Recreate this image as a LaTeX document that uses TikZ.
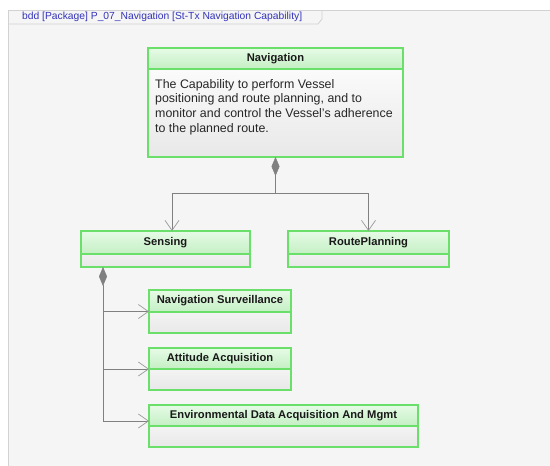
\documentclass[tikz,border=0pt]{standalone}
\usepackage{fontspec}
\setmainfont{Liberation Sans}
\usetikzlibrary{arrows.meta,calc}
\definecolor{boxgreen}{HTML}{6ADF6A}
\definecolor{hdrtop}{HTML}{E6FBE6}
\definecolor{hdrbot}{HTML}{C4EFC4}
\definecolor{bodybot}{HTML}{E8E8E8}
\definecolor{frameback}{HTML}{F5F5F5}
\definecolor{frameline}{HTML}{D2D2D2}
\definecolor{titleblue}{HTML}{3333BB}
\definecolor{conngray}{HTML}{808080}
\definecolor{arrowgray}{HTML}{9A9A9A}
\tikzset{
  boxbody/.style={draw=boxgreen, line width=1.1pt, top color=white, middle color=white, bottom color=bodybot, anchor=north west, inner sep=0pt, outer sep=0pt},
  boxhdr/.style={draw=boxgreen, line width=1.1pt, top color=hdrtop, bottom color=hdrbot, anchor=north west, inner sep=0pt, outer sep=0pt, font=\bfseries\fontsize{11.2}{13}\selectfont, text=black!90},
  comp/.style={draw=conngray, line width=0.8pt, {Diamond[length=19pt,width=8pt,fill=conngray,line width=0.5pt]}-{Straight Barb[length=10pt,width=14pt,line width=0.7pt,color=arrowgray]}},
  gen/.style={draw=conngray, line width=0.8pt, -{Straight Barb[length=10pt,width=14pt,line width=0.7pt,color=arrowgray]}}
}
\begin{document}
\begin{tikzpicture}[x=1pt,y=-1pt]
\useasboundingbox (0,0) rectangle (550,466);
\fill[white] (0,0) rectangle (550,466);
\fill[frameback] (8,10) rectangle (550,466);
\draw[frameline, line width=1pt] (550,10) -- (8,10) -- (8,466);
\draw[frameline, line width=0.8pt] (8,24) -- (318,24) -- (322,19) -- (322,10);
\node[anchor=west, text=titleblue, font=\fontsize{10.3}{12}\selectfont, inner sep=0pt] (title) at (22,16.5) {bdd [Package] P\_07\_Navigation [St-Tx Navigation Capability]};

% Navigation
\node[boxbody, minimum width=255, minimum height=109] (nav) at (148,48) {};
\node[boxhdr, minimum width=255, minimum height=21] (navh) at (148,48) {Navigation};
\node[anchor=north west, align=left, inner sep=0pt, text=black!85, font=\fontsize{12.4}{14.8}\selectfont] (navtxt) at (155,79)
 {The Capability to perform Vessel\\positioning and route planning, and to\\monitor and control the Vessel's adherence\\to the planned route.};

% Sensing
\node[boxbody, minimum width=169, minimum height=36] (sens) at (81,231) {};
\node[boxhdr, minimum width=169, minimum height=23] (sensh) at (81,231) {Sensing};

% RoutePlanning
\node[boxbody, minimum width=161, minimum height=36] (route) at (288,231) {};
\node[boxhdr, minimum width=161, minimum height=23] (routeh) at (288,231) {RoutePlanning};

% Navigation Surveillance
\node[boxbody, minimum width=142, minimum height=43] (ns) at (149,290) {};
\node[boxhdr, minimum width=142, minimum height=22] (nsh) at (149,290) {Navigation Surveillance};

% Attitude Acquisition
\node[boxbody, minimum width=142, minimum height=42] (att) at (149,348) {};
\node[boxhdr, minimum width=142, minimum height=21] (atth) at (149,348) {Attitude Acquisition};

% Environmental
\node[boxbody, minimum width=269, minimum height=42] (env) at (149,405) {};
\node[boxhdr, minimum width=269, minimum height=21] (envh) at (149,405) {Environmental Data Acquisition And Mgmt};

\coordinate (sx) at (172,0);
\coordinate (dx) at (103,0);
\coordinate (hy) at (0,193);

\draw[comp] (nav.south) -- (nav.south |- hy) -| (sensh.north -| sx);
\draw[gen] (nav.south |- hy) -| (routeh.north);

\draw[comp] (sens.south -| dx) |- ($(env.west)+(0,-5)$);
\draw[gen] (dx |- ns.west) -- (ns.west);
\draw[gen] (dx |- att.west) -- (att.west);
\end{tikzpicture}
\end{document}
